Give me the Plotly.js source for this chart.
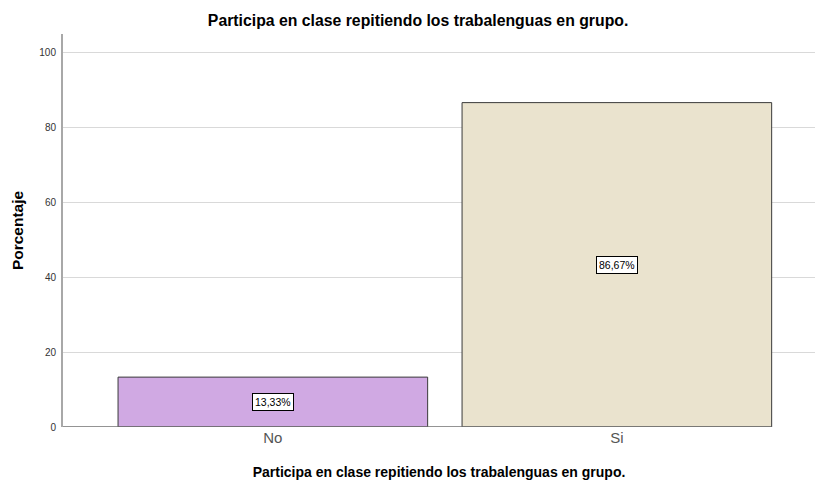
<!DOCTYPE html>
<html>
<head>
<meta charset="utf-8">
<script src="https://cdn.plot.ly/plotly-3.0.1.min.js"></script>
<style>html,body{margin:0;padding:0;background:#fff;}#chart{width:815px;height:481px;}</style>
</head>
<body>
<div id="chart"></div>
<script>
const categories = ["No", "Si"];
const values = [13.33, 86.67];
const labels = ["13,33%", "86,67%"];
const colors = ["#D0A9E3", "#EAE3CE"];
const yTicks = [0, 20, 40, 60, 80, 100];
const titleText = "Participa en clase repitiendo los trabalenguas en grupo.";

const FONT = "Liberation Sans, Arial, sans-serif";
const BAR_WIDTH = 0.9;
const X_RANGE = [-0.61, 1.576];

const trace = {
  type: "bar",
  x: categories,
  y: values,
  width: BAR_WIDTH,
  marker: { color: colors, line: { color: "#3a3a3a", width: 1 } },
  hoverinfo: "skip"
};

const annotations = categories.map((c, i) => ({
  x: c, y: values[i] / 2, xref: "x", yref: "y",
  text: labels[i], showarrow: false,
  font: { family: FONT, size: 10.5, color: "#000" },
  bgcolor: "#fff", bordercolor: "#000", borderwidth: 1, borderpad: 2
}));

const layout = {
  width: 815, height: 481,
  margin: { l: 63, r: 0, t: 34, b: 54 },
  paper_bgcolor: "#fff", plot_bgcolor: "#fff",
  showlegend: false,
  title: { text: titleText, font: { family: FONT, size: 15.8, color: "#000", weight: "bold" }, x: 0.513, xanchor: "center", y: 0.958, yanchor: "middle" },
  xaxis: {
    type: "category",
    range: X_RANGE,
    showgrid: false, zeroline: false, showline: false, ticks: "",
    tickfont: { family: FONT, size: 15, color: "#555" },
    title: { text: titleText, font: { family: FONT, size: 14, color: "#000", weight: "bold" }, standoff: 22 }
  },
  yaxis: {
    range: [0, 105],
    tickvals: yTicks, ticktext: yTicks.map(String),
    showgrid: true, gridcolor: "#d9d9d9", gridwidth: 1,
    zeroline: false,
    showline: true, linecolor: "#a8a8a8", linewidth: 2,
    ticks: "", ticklabelstandoff: 3,
    tickfont: { family: FONT, size: 10, color: "#333" },
    title: { text: "Porcentaje", font: { family: FONT, size: 15.5, color: "#000", weight: "bold" }, standoff: 12 }
  },
  annotations: annotations,
  shapes: [{
    type: "line", xref: "paper", yref: "y",
    x0: 0, x1: (categories.length - 1 + BAR_WIDTH / 2 - X_RANGE[0]) / (X_RANGE[1] - X_RANGE[0]),
    y0: 0, y1: 0,
    line: { color: "#707070", width: 1.5 }
  }]
};

Plotly.newPlot("chart", [trace], layout, { displayModeBar: false, staticPlot: true });
</script>
</body>
</html>
